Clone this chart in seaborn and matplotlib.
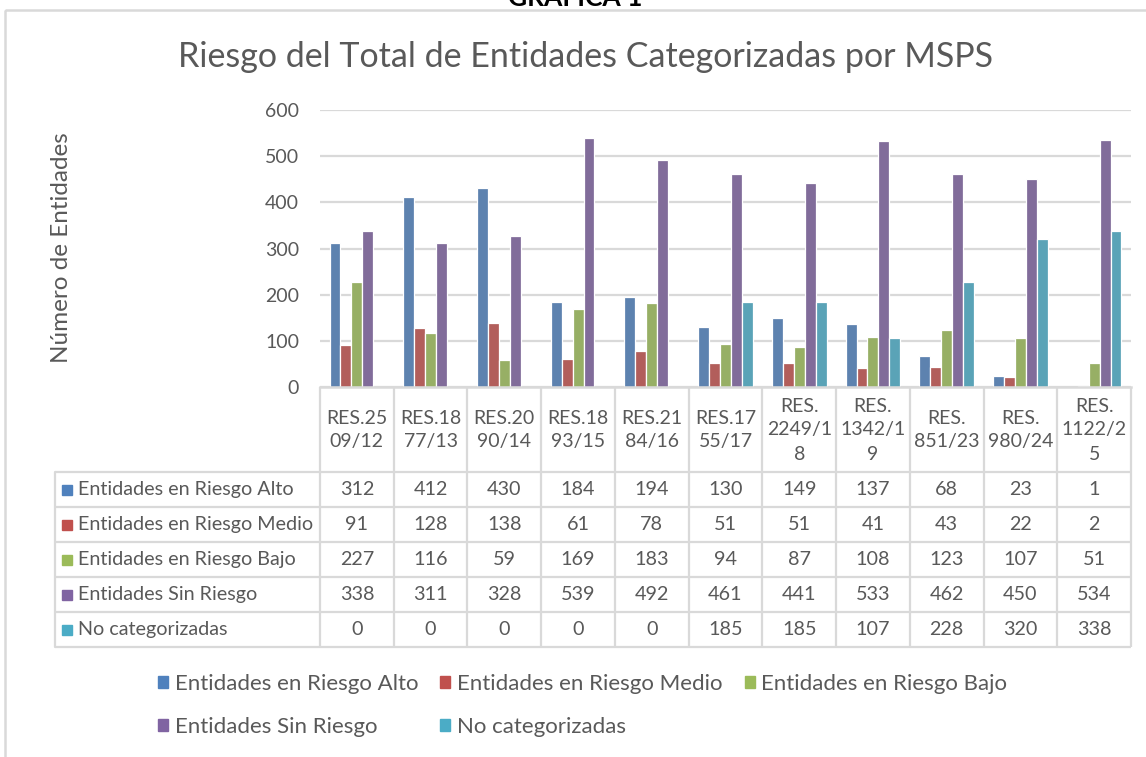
import matplotlib
matplotlib.use("Agg")
import matplotlib.pyplot as plt
import matplotlib.patches as mpatches
import matplotlib.transforms as mtransforms
import seaborn as sns
import pandas as pd

# ---------------- data ----------------
categorias = ["RES.25\n09/12", "RES.18\n77/13", "RES.20\n90/14", "RES.18\n93/15",
              "RES.21\n84/16", "RES.17\n55/17", "RES.\n2249/1\n8", "RES.\n1342/1\n9",
              "RES.\n851/23", "RES.\n980/24", "RES.\n1122/2\n5"]
series = ["Entidades en Riesgo Alto", "Entidades en Riesgo Medio",
          "Entidades en Riesgo Bajo", "Entidades Sin Riesgo", "No categorizadas"]
riesgo_alto = [312, 412, 430, 184, 194, 130, 149, 137, 68, 23, 1]
riesgo_medio = [91, 128, 138, 61, 78, 51, 51, 41, 43, 22, 2]
riesgo_bajo = [227, 116, 59, 169, 183, 94, 87, 108, 123, 107, 51]
sin_riesgo = [338, 311, 328, 539, 492, 461, 441, 533, 462, 450, 534]
no_categorizadas = [0, 0, 0, 0, 0, 185, 185, 107, 228, 320, 338]
y_ticks = [0, 100, 200, 300, 400, 500, 600]
colores = ["#4F81BD", "#C0504D", "#9BBB59", "#8064A2", "#4BACC6"]

valores = [riesgo_alto, riesgo_medio, riesgo_bajo, sin_riesgo, no_categorizadas]
rows = []
for s, vals in zip(series, valores):
    for c, v in zip(categorias, vals):
        rows.append({"Resolución": c, "Categoría": s, "Entidades": v})
df = pd.DataFrame(rows)

# ---------------- style ----------------
sns.set_theme(style="white")
plt.rcParams["font.family"] = ["Lato", "DejaVu Sans"]
TXT = "#595959"
GRID = "#D9D9D9"

W, H = 1146, 757
fig = plt.figure(figsize=(W / 100, H / 100), dpi=100)
fig.patch.set_facecolor("white")

# overlay axes in pixel coordinates (for table, frame)
tax = fig.add_axes([0, 0, 1, 1])
tax.set_xlim(0, W)
tax.set_ylim(H, 0)
tax.axis("off")

# main chart axes
L, R, T, B = 320, 1131, 110, 387
ax = fig.add_axes([L / W, 1 - B / H, (R - L) / W, (B - T) / H])
sns.barplot(data=df, x="Resolución", y="Entidades", hue="Categoría",
            palette=colores, width=0.74, edgecolor="white", linewidth=0.9,
            ax=ax, legend=False, errorbar=None)
ax.set_xlim(-0.5, len(categorias) - 0.5)
ax.set_ylim(0, 600)
ax.set_yticks(y_ticks)
ax.set_yticklabels([str(t) for t in y_ticks], fontsize=14, color=TXT)
ax.tick_params(axis="y", length=0, pad=15)
ax.set_xticks([])
ax.set_xlabel("")
ax.set_ylabel("")
ax.yaxis.grid(True, color=GRID, linewidth=1.6)
ax.set_axisbelow(True)
for sp in ["top", "right", "left"]:
    ax.spines[sp].set_visible(False)
ax.spines["bottom"].set_color(GRID)
ax.spines["bottom"].set_linewidth(1.8)
ax.patch.set_alpha(0)

# title, y label, outer caption
fig.text(586 / W, 1 - 57 / H, "Riesgo del Total de Entidades Categorizadas por MSPS",
         ha="center", va="center", fontsize=24.5, color=TXT)
fig.text(62 / W, 1 - 248 / H, "Número de Entidades", rotation=90,
         ha="center", va="center", fontsize=17.5, color=TXT)
fig.text(575 / W, 1 + 2 / H, "GRAFICA 1", ha="center", va="center",
         fontsize=19, fontweight="bold", color="black")

# outer frame
tax.add_patch(mpatches.Rectangle((5, 10), 1300, 900, fill=False,
                                 edgecolor=GRID, linewidth=1.8))

# ---------------- data table ----------------
trans = mtransforms.blended_transform_factory(ax.transData, tax.transData)
n = len(categorias)
header_bottom = 472
row_h = 35
table_bottom = header_bottom + row_h * len(series)
for i in range(n + 1):
    tax.plot([i - 0.5, i - 0.5], [B, table_bottom], color=GRID, lw=1.6,
             transform=trans, solid_capstyle="butt")
for r in range(len(series) + 1):
    y = header_bottom + r * row_h
    tax.plot([55, R], [y, y], color=GRID, lw=1.6, solid_capstyle="butt")
tax.plot([55, 55], [header_bottom, table_bottom], color=GRID, lw=1.6)

for i, c in enumerate(categorias):
    tax.text(i, 430, c, transform=trans, ha="center", va="center",
             fontsize=14, color=TXT, linespacing=1.5)

for r, (s, col, vals) in enumerate(zip(series, colores, valores)):
    yc = header_bottom + r * row_h + row_h / 2
    tax.add_patch(mpatches.Rectangle((62, yc - 5), 10, 10, color=col))
    tax.text(78, yc, s, ha="left", va="center", fontsize=14.2, color=TXT)
    for i, v in enumerate(vals):
        tax.text(i, yc, str(v), transform=trans, ha="center", va="center",
                 fontsize=14.2, color=TXT)

# ---------------- legend ----------------
handles = [mpatches.Patch(color=c, label=s) for s, c in zip(series, colores)]
order = [0, 3, 1, 4, 2]
fig.legend([handles[k] for k in order], [series[k] for k in order],
           ncol=3, loc="upper left", bbox_to_anchor=(158 / W, 1 - 674 / H),
           frameon=False, fontsize=16, handlelength=0.45, handleheight=0.45,
           handletextpad=0.3, columnspacing=1.0, labelspacing=1.05,
           labelcolor=TXT, borderaxespad=0, borderpad=0)

fig.savefig("out.png", dpi=100, facecolor="white")
